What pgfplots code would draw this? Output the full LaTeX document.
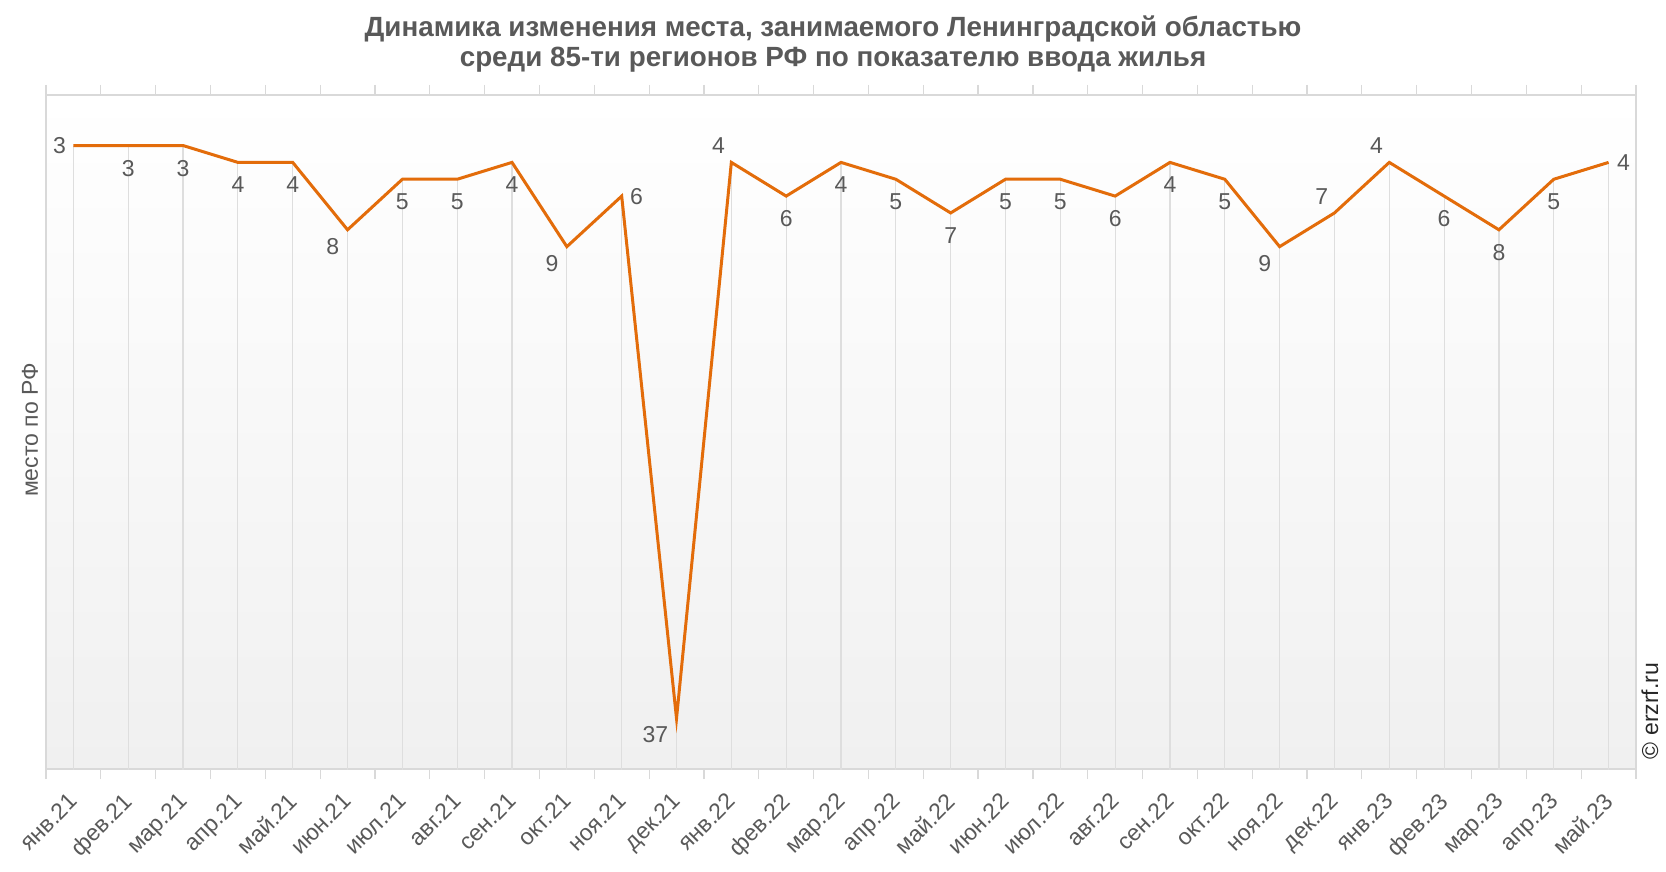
\documentclass[border=0pt]{standalone}
\usepackage{pgfplots}
\pgfplotsset{compat=1.18}
\usepackage{fontspec}
\setmainfont{Liberation Sans}
\definecolor{lineor}{HTML}{E36C0A}
\definecolor{txt}{HTML}{595959}
\definecolor{frame}{HTML}{D9D9D9}
\definecolor{drop}{HTML}{DEDEDE}
\definecolor{bgbot}{HTML}{F0F0F0}

\begin{document}
\begin{tikzpicture}
\useasboundingbox (0,0) rectangle (833pt,436pt);
\begin{axis}[
  at={(23pt,51.5pt)}, anchor=south west,
  scale only axis, width=795pt, height=337pt,
  xmin=-0.5, xmax=28.5, ymin=0, ymax=40, y dir=reverse,
  axis background/.style={top color=white, bottom color=bgbot},
  axis line style={draw=frame, line width=0.6pt},
  ytick=\empty,
  xtick={0,...,28},
  xticklabels={янв.21,фев.21,мар.21,апр.21,май.21,июн.21,июл.21,авг.21,сен.21,окт.21,ноя.21,дек.21,янв.22,фев.22,мар.22,апр.22,май.22,июн.22,июл.22,авг.22,сен.22,окт.22,ноя.22,дек.22,янв.23,фев.23,мар.23,апр.23,май.23},
  major tick length=0pt,
  minor xtick={-0.5,0.5,...,28.5},
  minor tick length=5pt,
  tick align=outside,
  minor tick style={draw=frame, line width=0.6pt},
  xticklabel style={yshift=-11pt, xshift=-3pt, rotate=45, anchor=north east, font=\fontsize{11.5}{12}\selectfont, text=txt, inner sep=0pt},
  /pgf/number format/assume math mode=true,
  every node near coord/.append style={font=\fontsize{11.5}{12}\selectfont, text=txt, inner sep=0pt},
]
% drop lines
\addplot[draw=none, mark=none, forget plot,
  error bars/.cd, y dir=plus, y fixed=40, error mark=none,
  error bar style={draw=drop, line width=0.6pt, solid}]
  coordinates {(0,3)(1,3)(2,3)(3,4)(4,4)(5,8)(6,5)(7,5)(8,4)(9,9)(10,6)(11,37)(12,4)(13,6)(14,4)(15,5)(16,7)(17,5)(18,5)(19,6)(20,4)(21,5)(22,9)(23,7)(24,4)(25,6)(26,8)(27,5)(28,4)};
% main line
\addplot[lineor, line width=1.5pt, mark=none]
  coordinates {(0,3)(1,3)(2,3)(3,4)(4,4)(5,8)(6,5)(7,5)(8,4)(9,9)(10,6)(11,37)(12,4)(13,6)(14,4)(15,5)(16,7)(17,5)(18,5)(19,6)(20,4)(21,5)(22,9)(23,7)(24,4)(25,6)(26,8)(27,5)(28,4)};
% labels below
\addplot[draw=none, mark=none, nodes near coords, point meta=y,
  every node near coord/.append style={anchor=north, yshift=-7pt}]
  coordinates {(1,3)(2,3)(3,4)(4,4)(6,5)(7,5)(8,4)(13,6)(14,4)(15,5)(16,7)(17,5)(18,5)(19,6)(20,4)(21,5)(25,6)(26,8)(27,5)};
% labels below left
\addplot[draw=none, mark=none, nodes near coords, point meta=y,
  every node near coord/.append style={anchor=north east, xshift=-4pt, yshift=-4pt}]
  coordinates {(5,8)(9,9)(11,37)(22,9)};
% labels above left
\addplot[draw=none, mark=none, nodes near coords, point meta=y,
  every node near coord/.append style={anchor=south east, xshift=-3pt, yshift=4pt}]
  coordinates {(12,4)(23,7)(24,4)};
% labels left
\addplot[draw=none, mark=none, nodes near coords, point meta=y,
  every node near coord/.append style={anchor=east, xshift=-3.5pt}]
  coordinates {(0,3)};
% labels right
\addplot[draw=none, mark=none, nodes near coords, point meta=y,
  every node near coord/.append style={anchor=west, xshift=4pt}]
  coordinates {(10,6)(28,4)};
\end{axis}
\node[anchor=base, text=txt, font=\bfseries\fontsize{13.9}{15}\selectfont] at (416.5pt,417.5pt) {Динамика изменения места, занимаемого Ленинградской областью};
\node[anchor=base, text=txt, font=\bfseries\fontsize{13.9}{15}\selectfont] at (416.5pt,402.5pt) {среди 85-ти регионов РФ по показателю ввода жилья};
\node[rotate=90, text=txt, font=\fontsize{11.5}{12}\selectfont] at (15pt,221pt) {место по РФ};
\node[rotate=90, text=black!85, font=\fontsize{11.5}{12}\selectfont] at (825pt,80.5pt) {© erzrf.ru};
\end{tikzpicture}
\end{document}
